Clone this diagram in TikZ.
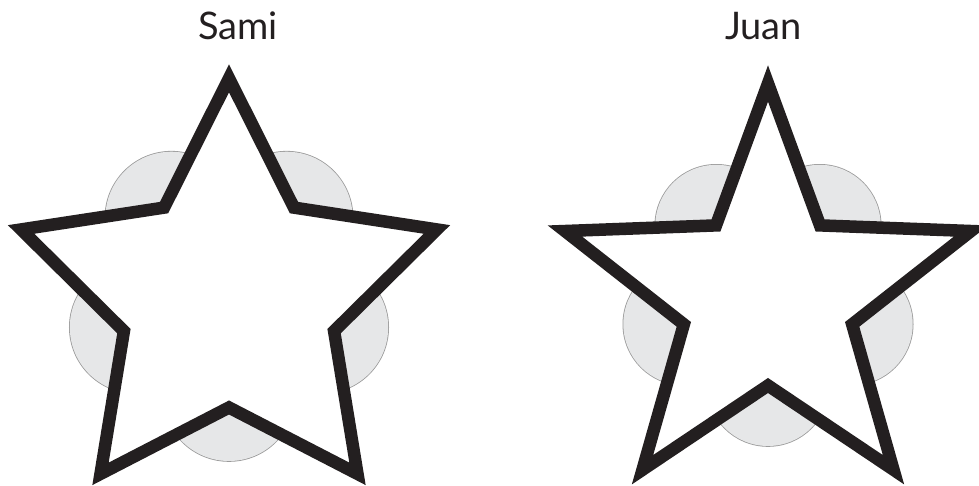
\documentclass[tikz,border=0pt]{standalone}
\usepackage{fontspec}
\setmainfont{Lato}
\usetikzlibrary{positioning}
\definecolor{cink}{HTML}{231F20}
\definecolor{cpetal}{HTML}{E6E7E8}
\definecolor{cedge}{HTML}{9A9A9A}
\tikzset{
  every picture/.style={x=1pt, y=1pt},
  petal/.style={draw=cedge, line width=1.6pt},
  petalfill/.style={fill=cpetal},
  starline/.style={draw=cink, fill=white, line width=12.5pt, line join=miter},
  kidname/.style={font=\fontsize{38}{40}\selectfont, text=cink, anchor=base, inner sep=0pt},
}

\begin{document}
\begin{tikzpicture}
  \useasboundingbox (0,0) rectangle (979,485);
  % Sami: fat star over big petals
  \begin{scope}[shift={(229,188)}]
    \foreach \a in {-90,-18,54,126,198} \draw[petal] (\a:98) circle (66);
    \foreach \a in {-90,-18,54,126,198} \fill[petalfill] (\a:98) circle (66);
    \draw[starline] (90:218.6) \foreach \a in {162,234,306,18} {-- (\a-36:110.5) -- (\a:218.6)} -- (54:110.5) -- cycle;
  \end{scope}
  \node[kidname] (sami) at (238,445.7) {Sami};
  % Juan: thin star over smaller petals
  \begin{scope}[shift={(768,188)}]
    \foreach \a in {-90,-18,54,126,198} \draw[petal] (\a:88) circle (61);
    \foreach \a in {-90,-18,54,126,198} \fill[petalfill] (\a:88) circle (61);
    \draw[starline] (90:213.5) \foreach \a in {162,234,306,18} {-- (\a-36:88.5) -- (\a:213.5)} -- (54:88.5) -- cycle;
  \end{scope}
  \node[kidname] (juan) at (763.5,445.7) {Juan};
\end{tikzpicture}
\end{document}
